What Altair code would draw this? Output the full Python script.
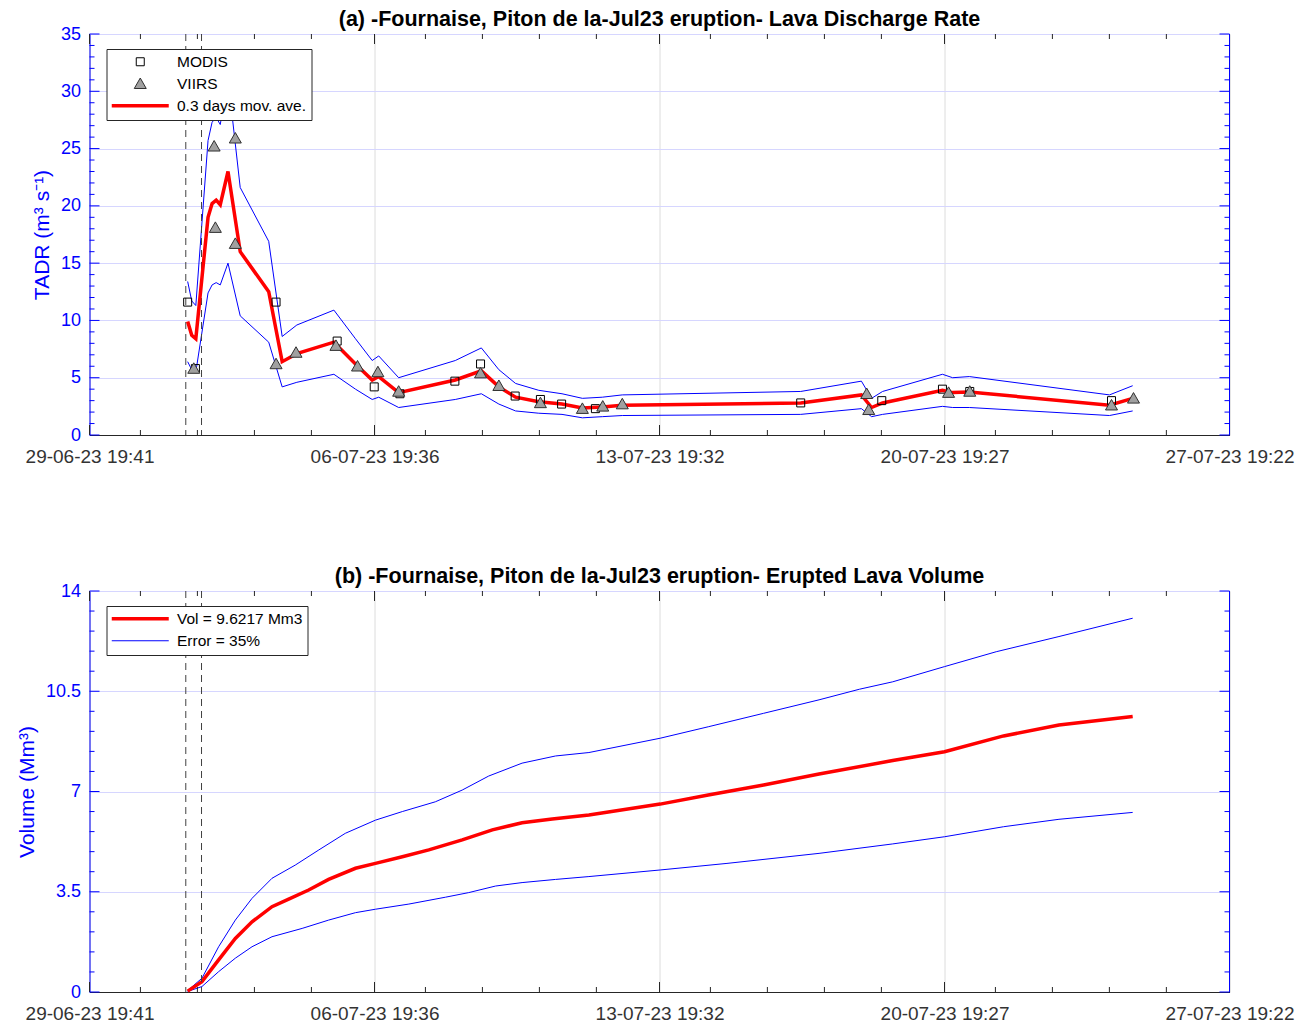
import json
import altair as alt
import pandas as pd

# ---------------- data (x = days since 29-06-23 19:41) ----------------
X_LABELS = ['29-06-23 19:41', '06-07-23 19:36', '13-07-23 19:32', '20-07-23 19:27', '27-07-23 19:22']
X_MAJOR = [0.0, 6.9967, 13.9934, 20.9901, 27.9868]
X_MINOR = [1.25, 2.649, 4.049, 5.448, 8.247, 9.646, 11.045, 12.444,
           15.243, 16.642, 18.042, 19.441, 22.24, 23.639, 25.038, 26.437]
X_END = 27.9868

ERUPTION_MARKS = [2.364, 2.75]

MODIS_T = [2.41, 2.60, 4.58, 6.08, 6.99, 7.62, 8.97, 9.60, 10.45, 11.07, 11.59, 12.42,
           17.46, 19.45, 20.94, 21.61, 25.09]
MODIS_V = [11.6, 5.8, 11.6, 8.2, 4.2, 3.6, 4.7, 6.2, 3.4, 3.1, 2.7, 2.3,
           2.8, 3.0, 4.0, 3.8, 3.0]

VIIRS_T = [2.56, 3.06, 3.09, 3.58, 3.58, 4.58, 5.07, 6.05, 6.58, 7.08, 7.59, 9.60, 10.05,
           11.07, 12.10, 12.60, 13.08, 19.08, 19.13, 21.09, 21.61, 25.09, 25.63]
VIIRS_V = [5.8, 25.2, 18.1, 25.9, 16.7, 6.2, 7.2, 7.8, 6.0, 5.5, 3.8, 5.4, 4.3,
           2.8, 2.3, 2.5, 2.7, 3.6, 2.2, 3.7, 3.8, 2.6, 3.2]

AVG_T = [2.41, 2.51, 2.61, 2.91, 3.01, 3.11, 3.21, 3.40, 3.70, 4.40, 4.73, 5.09, 6.00, 6.53,
         6.94, 7.10, 7.59, 8.98, 9.62, 10.05, 10.46, 11.03, 11.60, 12.10, 12.59, 13.08,
         17.46, 18.95, 19.20, 19.47, 20.94, 21.19, 21.60, 25.04, 25.61]
AVG_V = [9.9, 8.7, 8.4, 19.0, 20.2, 20.5, 20.1, 23.0, 16.0, 12.5, 6.4, 7.1, 8.1, 6.2,
         4.8, 5.1, 3.7, 4.8, 5.6, 4.2, 3.3, 2.9, 2.7, 2.35, 2.45, 2.6,
         2.8, 3.5, 2.4, 2.8, 3.9, 3.7, 3.75, 2.6, 3.2]
AVG_UP = [13.4, 11.7, 11.3, 25.7, 27.3, 27.7, 27.1, 31.1, 21.6, 16.9, 8.6, 9.6, 10.9, 8.4,
          6.5, 6.9, 5.0, 6.5, 7.6, 5.7, 4.5, 3.9, 3.6, 3.2, 3.3, 3.5,
          3.8, 4.7, 3.2, 3.8, 5.3, 5.0, 5.1, 3.5, 4.3]
AVG_LO = [6.4, 5.7, 5.5, 12.4, 13.1, 13.3, 13.1, 15.0, 10.4, 8.1, 4.2, 4.6, 5.3, 4.0,
          3.1, 3.3, 2.4, 3.1, 3.6, 2.7, 2.1, 1.9, 1.8, 1.5, 1.6, 1.7,
          1.8, 2.3, 1.6, 1.8, 2.5, 2.4, 2.4, 1.7, 2.1]

VOL_T = [2.41, 2.76, 3.17, 3.58, 3.99, 4.48, 4.89, 5.38, 5.87, 6.53, 7.02, 7.68, 8.33, 9.15,
         9.89, 10.62, 11.36, 12.26, 14.01, 15.19, 16.55, 17.91, 19.72, 20.99, 22.44, 23.80, 25.61]
VOL_V = [0.03, 0.36, 1.12, 1.87, 2.45, 2.98, 3.24, 3.56, 3.93, 4.32, 4.49, 4.72, 4.96, 5.31,
         5.66, 5.91, 6.04, 6.18, 6.56, 6.88, 7.23, 7.61, 8.08, 8.39, 8.94, 9.32, 9.62]
UP_T = [2.41, 2.76, 3.17, 3.58, 3.99, 4.48, 5.05, 5.63, 6.28, 7.02, 7.68, 8.49, 9.15, 9.80,
        10.62, 11.44, 12.26, 14.01, 15.19, 16.55, 17.91, 18.90, 19.72, 20.99, 22.26, 23.80, 25.61]
UP_V = [0.05, 0.48, 1.58, 2.51, 3.27, 3.97, 4.43, 4.96, 5.54, 6.00, 6.30, 6.64, 7.05, 7.54,
        7.99, 8.24, 8.36, 8.86, 9.26, 9.73, 10.20, 10.57, 10.83, 11.36, 11.88, 12.41, 13.05]
LO_T = [2.41, 2.76, 3.17, 3.58, 3.99, 4.48, 5.22, 5.87, 6.53, 7.02, 7.84, 8.74, 9.31, 9.97,
        10.62, 11.44, 12.26, 14.01, 15.65, 17.91, 19.72, 20.99, 22.44, 23.80, 25.61]
LO_V = [0.02, 0.19, 0.71, 1.18, 1.58, 1.93, 2.22, 2.51, 2.77, 2.89, 3.07, 3.31, 3.47, 3.70,
        3.82, 3.93, 4.03, 4.26, 4.49, 4.84, 5.17, 5.42, 5.77, 6.03, 6.27]

TOP_TITLE = '(a) -Fournaise, Piton de la-Jul23 eruption- Lava Discharge Rate'
BOT_TITLE = '(b) -Fournaise, Piton de la-Jul23 eruption- Erupted Lava Volume'
TOP_YTITLE = 'TADR (m³ s⁻¹)'
BOT_YTITLE = 'Volume (Mm³)'
SER_TOP = ['MODIS', 'VIIRS', '0.3 days mov. ave.']
SER_BOT = ['Vol = 9.6217 Mm3', 'Error = 35%']

TOP_Y_MAJOR = [0, 5, 10, 15, 20, 25, 30, 35]
TOP_Y_MINOR = [v for v in range(36) if v % 5 != 0]
BOT_Y_MAJOR = [0, 3.5, 7, 10.5, 14]
BOT_Y_MINOR = [0.7, 1.4, 2.1, 2.8, 4.2, 4.9, 5.6, 6.3, 7.7, 8.4, 9.1, 9.8,
               11.2, 11.9, 12.6, 13.3]

# ---------------- styling ----------------
FONT = 'Liberation Sans'
W, H = 1140, 401
BLUE = '#0000FF'
DARK = '#262626'
SQUARE = 'M-0.8,-0.8H0.8V0.8H-0.8Z'
TRIANGLE = 'M0,-1.15L1.2,0.95L-1.2,0.95Z'
LINE = 'M-5.7,0H5.7'

label_expr = json.dumps(X_LABELS) + '[round(datum.value / ' + str(X_MAJOR[1]) + ')]'

X_AXIS = alt.Axis(values=X_MAJOR, labelExpr=label_expr, title=None,
                  grid=True, gridColor='#DCDCDC', gridWidth=1,
                  ticks=False, domainColor=DARK, domainWidth=1,
                  labelColor='#333333', labelFontSize=19, labelFont=FONT,
                  labelPadding=12, labelFlush=False, labelOverlap=False)


def x_enc():
    return alt.X('t:Q', scale=alt.Scale(domain=[0, X_END], nice=False, zero=False),
                 axis=X_AXIS)


def y_enc(dmax, major, title):
    return alt.Y('v:Q', scale=alt.Scale(domain=[0, dmax], nice=False, zero=True),
                 axis=alt.Axis(values=major, format='.3~g', title=title,
                               titleColor=BLUE, titleFontSize=21, titleFontWeight='normal',
                               titleFont=FONT, titlePadding=8,
                               grid=True, gridColor='#D6D6FF', gridWidth=1,
                               ticks=False, domainColor=BLUE, domainWidth=1,
                               labelColor=BLUE, labelFontSize=18, labelFont=FONT,
                               labelPadding=9))


def tick_layers(y_major, y_minor, yenc):
    layers = []
    for vals, ln in ((X_MAJOR, 10), (X_MINOR, 5)):
        d = pd.DataFrame({'t': vals})
        layers.append(alt.Chart(d).mark_rule(color=DARK, strokeWidth=1).encode(
            x=x_enc(), y=alt.value(H), y2=alt.value(H - ln)))
        layers.append(alt.Chart(d).mark_rule(color=DARK, strokeWidth=1).encode(
            x=x_enc(), y=alt.value(0), y2=alt.value(ln)))
    for vals, ln in ((y_major, 10), (y_minor, 5)):
        d = pd.DataFrame({'v': vals})
        layers.append(alt.Chart(d).mark_rule(color=BLUE, strokeWidth=1).encode(
            y=yenc, x=alt.value(0), x2=alt.value(ln)))
        layers.append(alt.Chart(d).mark_rule(color=BLUE, strokeWidth=1).encode(
            y=yenc, x=alt.value(W), x2=alt.value(W - ln)))
    layers.append(alt.Chart(pd.DataFrame({'t': [X_END]})).mark_rule(color=BLUE, strokeWidth=1)
                  .encode(x=x_enc()))
    return layers


def dashed_layer():
    return alt.Chart(pd.DataFrame({'t': ERUPTION_MARKS})).mark_rule(
        color='#404040', strokeWidth=1, strokeDash=[7, 5]).encode(x=x_enc())


def leg(rowpad, symtype=None):
    kw = dict(title=None, orient='none', legendX=17, legendY=15,
              fillColor='white', strokeColor=DARK, padding=5,
              labelFont=FONT, labelFontSize=15.5, labelColor='black',
              labelOffset=29, symbolOffset=21, symbolSize=100, rowPadding=rowpad)
    if symtype:
        kw['symbolType'] = symtype
    return alt.Legend(**kw)


def panel_title(text):
    return alt.TitleParams(text, font=FONT, fontSize=21.5, fontWeight='bold',
                           color='black', anchor='middle', offset=-5)


# ---------------- top panel ----------------
leg_top = leg(5)
sc_shape = alt.Scale(domain=SER_TOP, range=[SQUARE, TRIANGLE, LINE])
sc_fill = alt.Scale(domain=SER_TOP, range=['transparent', '#A0A0A0', '#FF0000'])
sc_stroke = alt.Scale(domain=SER_TOP, range=['#000000', '#303030', '#FF0000'])
sc_sw = alt.Scale(type='ordinal', domain=SER_TOP, range=[1, 1, 3.5])

band_top = pd.DataFrame({
    't': AVG_T + AVG_T,
    'v': AVG_UP + AVG_LO,
    'band': ['upper'] * len(AVG_T) + ['lower'] * len(AVG_T),
})
avg_df = pd.DataFrame({'t': AVG_T, 'v': AVG_V, 'src': SER_TOP[2]})
pts_df = pd.DataFrame({
    't': MODIS_T + VIIRS_T,
    'v': MODIS_V + VIIRS_V,
    'src': [SER_TOP[0]] * len(MODIS_T) + [SER_TOP[1]] * len(VIIRS_T),
})

ytop = y_enc(35, TOP_Y_MAJOR, TOP_YTITLE)
top_band = alt.Chart(band_top).mark_line(color=BLUE, strokeWidth=1).encode(
    x=x_enc(), y=ytop, detail='band:N')
top_avg = alt.Chart(avg_df).mark_line().encode(
    x=x_enc(), y=ytop,
    stroke=alt.Stroke('src:N', scale=sc_stroke, legend=leg_top),
    strokeWidth=alt.StrokeWidth('src:N', scale=sc_sw, legend=leg_top))
top_pts = alt.Chart(pts_df).mark_point(filled=True, opacity=1, size=100).encode(
    x=x_enc(), y=ytop,
    shape=alt.Shape('src:N', scale=sc_shape, legend=leg_top),
    fill=alt.Fill('src:N', scale=sc_fill, legend=leg_top),
    stroke=alt.Stroke('src:N', scale=sc_stroke, legend=leg_top),
    strokeWidth=alt.StrokeWidth('src:N', scale=sc_sw, legend=leg_top))

top = alt.layer(top_band, dashed_layer(), top_avg, top_pts,
                *tick_layers(TOP_Y_MAJOR, TOP_Y_MINOR, ytop)).properties(
    width=W, height=H, title=panel_title(TOP_TITLE))

# ---------------- bottom panel ----------------
leg_bot = leg(5, LINE)
sb_stroke = alt.Scale(domain=SER_BOT, range=['#FF0000', '#0000FF'])
sb_sw = alt.Scale(type='ordinal', domain=SER_BOT, range=[3.5, 1])

vol_df = pd.DataFrame({'t': VOL_T, 'v': VOL_V, 'src': SER_BOT[0], 'band': 'vol'})
err_df = pd.DataFrame({
    't': UP_T + LO_T,
    'v': UP_V + LO_V,
    'src': SER_BOT[1],
    'band': ['upper'] * len(UP_T) + ['lower'] * len(LO_T),
})
bot_lines_df = pd.concat([err_df, vol_df], ignore_index=True)

ybot = y_enc(14, BOT_Y_MAJOR, BOT_YTITLE)
bot_lines = alt.Chart(bot_lines_df).mark_line().encode(
    x=x_enc(), y=ybot,
    stroke=alt.Stroke('src:N', scale=sb_stroke, legend=leg_bot),
    strokeWidth=alt.StrokeWidth('src:N', scale=sb_sw, legend=leg_bot),
    detail='band:N',
    order=alt.Order('t:Q'))

bottom = alt.layer(bot_lines, dashed_layer(),
                   *tick_layers(BOT_Y_MAJOR, BOT_Y_MINOR, ybot)).properties(
    width=W, height=H, title=panel_title(BOT_TITLE))

chart = alt.vconcat(top, bottom, spacing=156, bounds='flush').resolve_scale(
    shape='independent', fill='independent', stroke='independent',
    strokeWidth='independent', x='independent', y='independent'
).resolve_legend(
    shape='independent', fill='independent', stroke='independent', strokeWidth='independent'
).properties(
    padding={'left': 7.5, 'top': 0, 'right': 5, 'bottom': 5},
    background='white',
).configure_view(stroke=DARK, strokeWidth=1).configure(font=FONT)

chart.save('out.html', embed_options={'renderer': 'svg', 'actions': False})
